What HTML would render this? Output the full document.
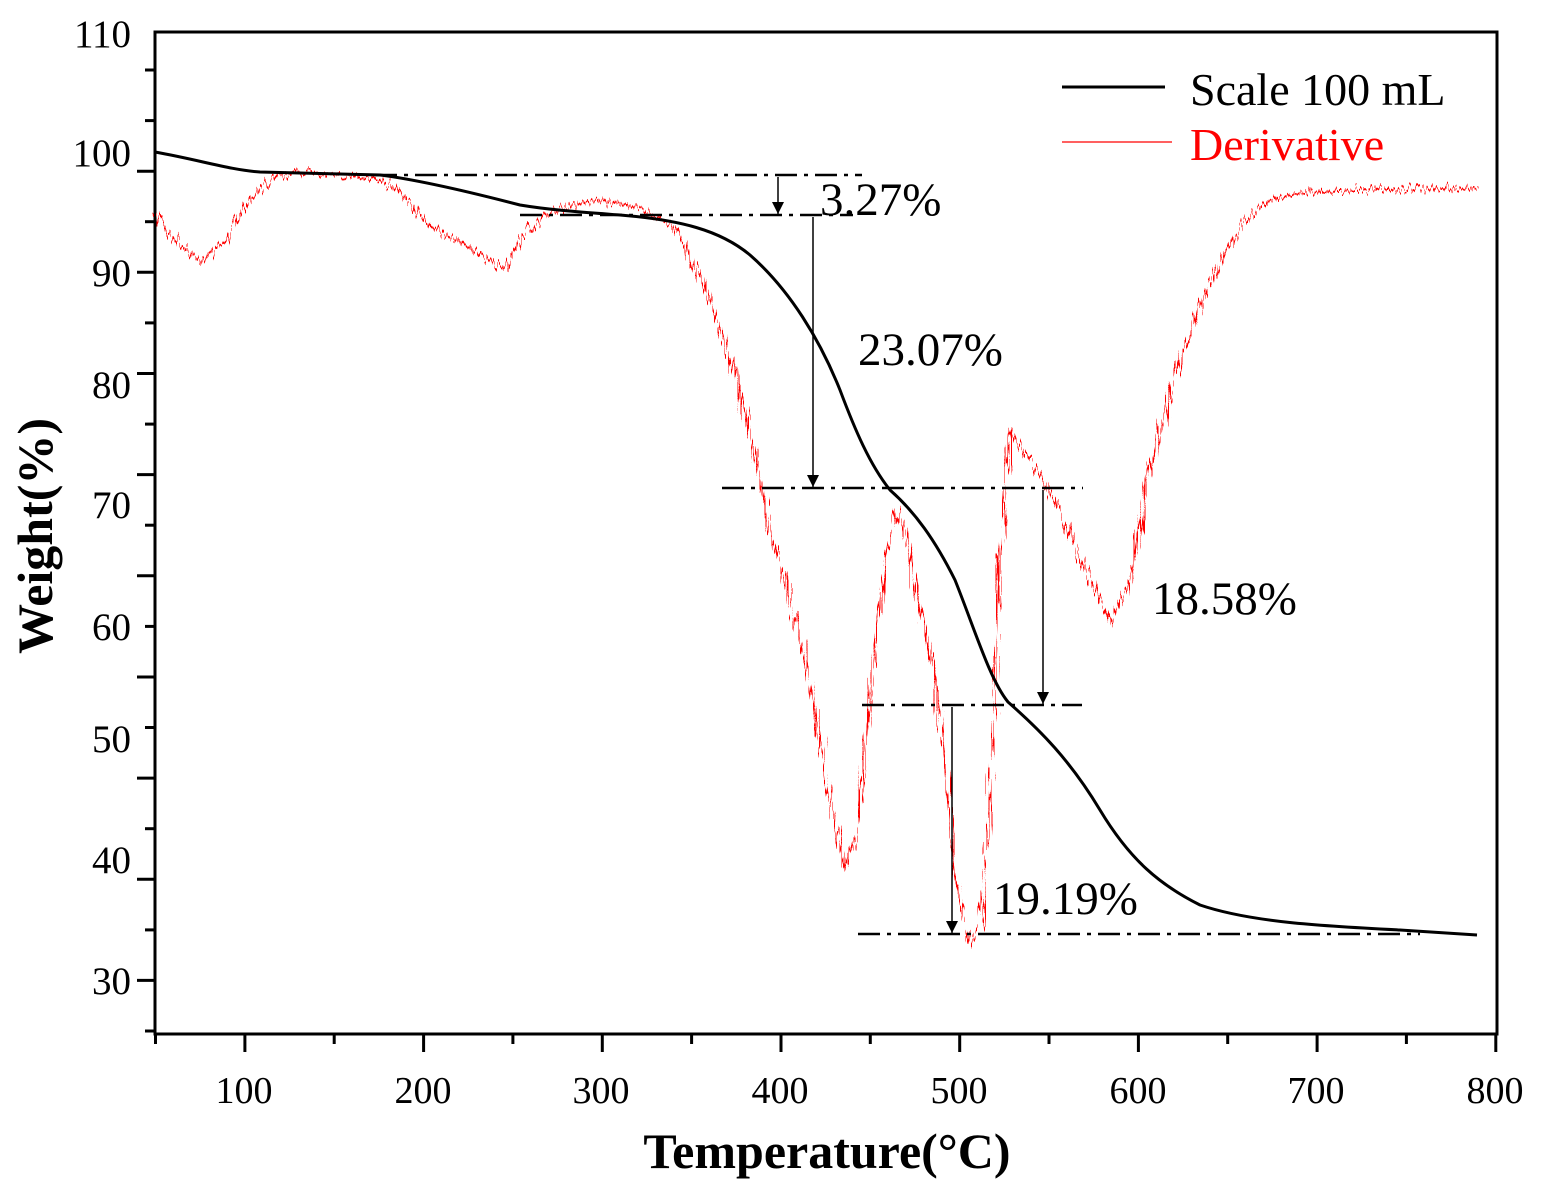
<!DOCTYPE html>
<html><head><meta charset="utf-8"><style>
html,body{margin:0;padding:0;background:#fff;}
svg{display:block;}
text{font-family:"Liberation Serif",serif;}
</style></head><body>
<svg width="1545" height="1185" viewBox="0 0 1545 1185" xmlns="http://www.w3.org/2000/svg">
<defs>
<marker id="ah2" viewBox="0 0 10 10" refX="10" refY="5" markerWidth="18" markerHeight="12" orient="auto" markerUnits="userSpaceOnUse"><path d="M0,0 L10,5 L0,10 z" fill="#000"/></marker>
<filter id="nz" x="-5%" y="-5%" width="110%" height="110%">
<feTurbulence type="fractalNoise" baseFrequency="0.45 0.02" numOctaves="2" seed="3" result="t"/>
<feDisplacementMap in="SourceGraphic" in2="t" scale="18" xChannelSelector="R" yChannelSelector="G"/>
</filter>
</defs>
<rect x="155" y="32" width="1342" height="1002" fill="none" stroke="#000" stroke-width="3"/>
<g stroke="#000" stroke-width="3">
<line x1="145" y1="70" x2="155" y2="70"/><line x1="145" y1="120.6" x2="155" y2="120.6"/><line x1="137" y1="171.2" x2="155" y2="171.2"/><line x1="145" y1="221.7" x2="155" y2="221.7"/><line x1="137" y1="272.3" x2="155" y2="272.3"/><line x1="145" y1="322.9" x2="155" y2="322.9"/><line x1="137" y1="373.5" x2="155" y2="373.5"/><line x1="145" y1="424.1" x2="155" y2="424.1"/><line x1="137" y1="474.6" x2="155" y2="474.6"/><line x1="145" y1="525.2" x2="155" y2="525.2"/><line x1="137" y1="575.8" x2="155" y2="575.8"/><line x1="145" y1="626.4" x2="155" y2="626.4"/><line x1="137" y1="677" x2="155" y2="677"/><line x1="145" y1="727.5" x2="155" y2="727.5"/><line x1="137" y1="778.1" x2="155" y2="778.1"/><line x1="145" y1="828.7" x2="155" y2="828.7"/><line x1="137" y1="879.3" x2="155" y2="879.3"/><line x1="145" y1="929.9" x2="155" y2="929.9"/><line x1="137" y1="980.4" x2="155" y2="980.4"/><line x1="145" y1="1031" x2="155" y2="1031"/>
<line x1="155.5" y1="1034" x2="155.5" y2="1044"/><line x1="244.9" y1="1034" x2="244.9" y2="1052"/><line x1="334.2" y1="1034" x2="334.2" y2="1044"/><line x1="423.6" y1="1034" x2="423.6" y2="1052"/><line x1="512.9" y1="1034" x2="512.9" y2="1044"/><line x1="602.3" y1="1034" x2="602.3" y2="1052"/><line x1="691.6" y1="1034" x2="691.6" y2="1044"/><line x1="781" y1="1034" x2="781" y2="1052"/><line x1="870.3" y1="1034" x2="870.3" y2="1044"/><line x1="959.7" y1="1034" x2="959.7" y2="1052"/><line x1="1049" y1="1034" x2="1049" y2="1044"/><line x1="1138.4" y1="1034" x2="1138.4" y2="1052"/><line x1="1227.7" y1="1034" x2="1227.7" y2="1044"/><line x1="1317.1" y1="1034" x2="1317.1" y2="1052"/><line x1="1406.4" y1="1034" x2="1406.4" y2="1044"/><line x1="1495.8" y1="1034" x2="1495.8" y2="1052"/>
</g>
<g font-size="39" text-anchor="end">
<text x="131" y="47">110</text>
<text x="131" y="166">100</text>
<text x="131" y="286">90</text>
<text x="131" y="398">80</text>
<text x="131" y="518">70</text>
<text x="131" y="640">60</text>
<text x="131" y="752">50</text>
<text x="131" y="873">40</text>
<text x="131" y="994">30</text>
</g>
<g font-size="38" text-anchor="middle">
<text x="244" y="1103">100</text><text x="423" y="1103">200</text><text x="601" y="1103">300</text><text x="780" y="1103">400</text><text x="959" y="1103">500</text><text x="1138" y="1103">600</text><text x="1316" y="1103">700</text><text x="1495" y="1103">800</text>
</g>
<text x="827" y="1168" font-size="50" font-weight="bold" text-anchor="middle">Temperature(°C)</text>
<text transform="translate(52,536) rotate(-90)" font-size="50" font-weight="bold" text-anchor="middle">Weight(%)</text>
<path fill="none" stroke="#f00" stroke-width="2" filter="url(#nz)" d="M155,215 L175,240 L200,262 L225,240 L250,200 L270,180 L300,172 L380,178 L400,192 L430,225 L470,248 L505,268 L520,240 L545,215 L570,205 L600,200 L640,208 L670,225 L690,255 L710,300 L730,360 L750,430 L770,530 L790,600 L810,680 L830,800 L845,865 L855,840 L870,700 L885,560 L895,510 L905,530 L920,610 L935,680 L945,760 L955,880 L970,942 L980,925 L990,800 L1000,560 L1010,432 L1030,460 L1060,510 L1080,560 L1100,600 L1110,622 L1130,580 L1150,470 L1180,360 L1210,280 L1240,225 L1270,200 L1300,193 L1350,190 L1400,190 L1477,188"/>
<path fill="none" stroke="#000" stroke-width="3" d="M155,152 C200,160 230,170 260,172 L380,175 C420,180 470,192 520,205 C550,210 580,212 620,215 C680,220 720,230 750,255 C790,290 820,340 840,390 C855,430 870,465 890,490 C915,512 935,540 955,580 C975,630 990,680 1008,702 C1040,730 1070,760 1100,810 C1130,860 1160,885 1200,905 C1250,922 1320,926 1400,930 L1477,935"/>
<g stroke="#000" stroke-width="2.5" stroke-dasharray="22,7,4,7" fill="none">
<line x1="375" y1="175" x2="862" y2="175"/>
<line x1="520" y1="215" x2="853" y2="215"/>
<line x1="722" y1="488" x2="1083" y2="488"/>
<line x1="862" y1="705" x2="1082" y2="705"/>
<line x1="858" y1="934" x2="1420" y2="934"/>
</g>
<g stroke="#000" stroke-width="1.5">
<line x1="778" y1="177" x2="778" y2="214" marker-end="url(#ah2)"/>
<line x1="813" y1="217" x2="813" y2="487" marker-end="url(#ah2)"/>
<line x1="1043" y1="490" x2="1043" y2="704" marker-end="url(#ah2)"/>
<line x1="952" y1="707" x2="952" y2="933" marker-end="url(#ah2)"/>
</g>
<g font-size="47">
<text x="820" y="215">3.27%</text>
<text x="858" y="365">23.07%</text>
<text x="1152" y="614">18.58%</text>
<text x="993" y="914">19.19%</text>
</g>
<line x1="1062" y1="87" x2="1165" y2="87" stroke="#000" stroke-width="3"/>
<text x="1190" y="105" font-size="46">Scale 100 mL</text>
<line x1="1062" y1="142" x2="1172" y2="142" stroke="#f00" stroke-width="1.3"/>
<text x="1190" y="160" font-size="46" fill="#f00">Derivative</text>
</svg>
</body></html>
